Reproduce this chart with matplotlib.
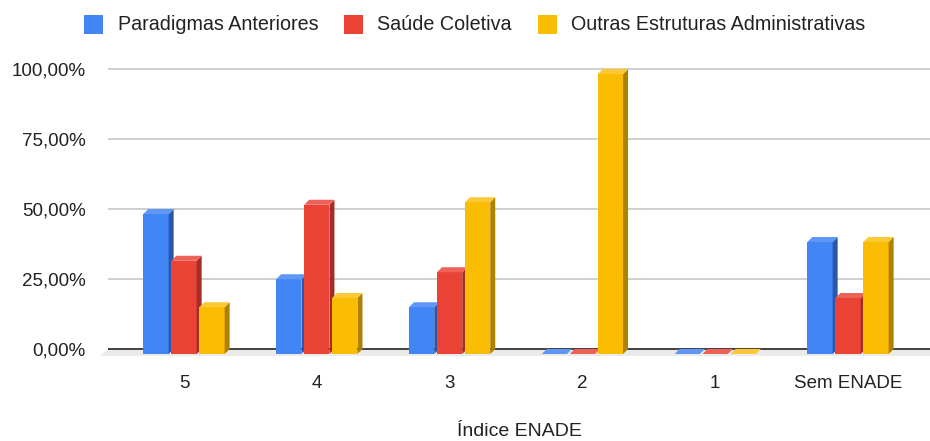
import numpy as np
import matplotlib.pyplot as plt
from matplotlib.patches import Polygon, Rectangle
from matplotlib.ticker import FuncFormatter

plt.rcParams['font.family'] = ['Liberation Sans', 'DejaVu Sans']

categories = ['5', '4', '3', '2', '1', 'Sem ENADE']
series_names = ['Paradigmas Anteriores', 'Saúde Coletiva', 'Outras Estruturas Administrativas']
paradigmas = [0.500, 0.267, 0.167, 0.0, 0.0, 0.40]
saude = [0.333, 0.533, 0.292, 0.0, 0.0, 0.20]
outras = [0.167, 0.200, 0.542, 1.0, 0.0, 0.40]
y_ticks = [0.0, 0.25, 0.5, 0.75, 1.0]

front = ['#4285F4', '#EA4335', '#FBBC04']
side = ['#2A57AC', '#A52D27', '#AE8200']
top = ['#5F97F6', '#EE6157', '#FCC834']

W, H = 930, 441
fig = plt.figure(figsize=(W / 100, H / 100), dpi=100)

# axes box in pixels: zero line at y=349, 100% at y=69
left_px, right_px, top_px, bot_px = 108, 930, 60, 360
ax = fig.add_axes([left_px / W, 1 - bot_px / H, (right_px - left_px) / W, (bot_px - top_px) / H])

px_x = 132.8           # pixels per category
px_y = 280.0           # pixels per 100%
x0 = 184.0             # pixel x of first category
ax.set_xlim((left_px - x0) / px_x, (right_px - x0) / px_x)
ax.set_ylim((349 - bot_px) / px_y, (349 - top_px) / px_y)

dx = 5 / px_x          # depth of the 3d effect
dy = 5 / px_y
w = 25.3 / px_x
pitch = 28 / px_x

for s in ax.spines.values():
    s.set_visible(False)

ax.set_yticks(y_ticks)
ax.yaxis.set_major_formatter(FuncFormatter(lambda v, p: f'{v * 100:.2f}%'.replace('.', ',')))
ax.set_xticks(np.arange(len(categories)))
ax.set_xticklabels(categories)
ax.tick_params(length=0, labelsize=13.5, colors='#222222')
ax.tick_params(axis='y', pad=16)
ax.tick_params(axis='x', pad=11)

for t in y_ticks[1:]:
    ax.axhline(t, color='#cccccc', lw=1.3, zorder=1)

# floor under the bars
floor = Polygon([(ax.get_xlim()[0], 0), (ax.get_xlim()[1], 0),
                 (ax.get_xlim()[1], -7 / px_y), (ax.get_xlim()[0] - 8 / px_x, -7 / px_y)],
                closed=True, facecolor='#ebebeb', edgecolor='none', zorder=1, clip_on=False)
ax.add_patch(floor)
ax.axhline(0, color='#333333', lw=1.3, zorder=2)

xs = np.arange(len(categories))
for j, vals in enumerate([paradigmas, saude, outras]):
    zo = 3 + j
    centers = xs + (j - 1) * pitch
    ax.bar(centers, vals, width=w, bottom=-dy, color=front[j], edgecolor='none', zorder=zo)
    for c, v in zip(centers, vals):
        xl, xr = c - w / 2, c + w / 2
        ax.add_patch(Polygon([(xr, -dy), (xr + dx, 0), (xr + dx, v), (xr, v - dy)],
                             closed=True, facecolor=side[j], edgecolor='none', zorder=zo))
        ax.add_patch(Polygon([(xl, v - dy), (xr, v - dy), (xr + dx, v), (xl + dx, v)],
                             closed=True, facecolor=top[j], edgecolor='none', zorder=zo))

# legend
leg_sq = [84, 344, 538]
leg_tx = [118, 377, 571]
for j in range(3):
    fig.patches.append(Rectangle((leg_sq[j] / W, 1 - 34 / H), 19 / W, 19 / H,
                                 transform=fig.transFigure, facecolor=front[j], edgecolor='none'))
    fig.text(leg_tx[j] / W, 1 - 24.5 / H, series_names[j], fontsize=14.2, color='#222222',
             ha='left', va='center')

fig.text((left_px + right_px) / 2 / W, 1 - 432 / H, 'Índice ENADE', fontsize=14,
         color='#222222', ha='center', va='center')

fig.savefig('out.png', dpi=100)
